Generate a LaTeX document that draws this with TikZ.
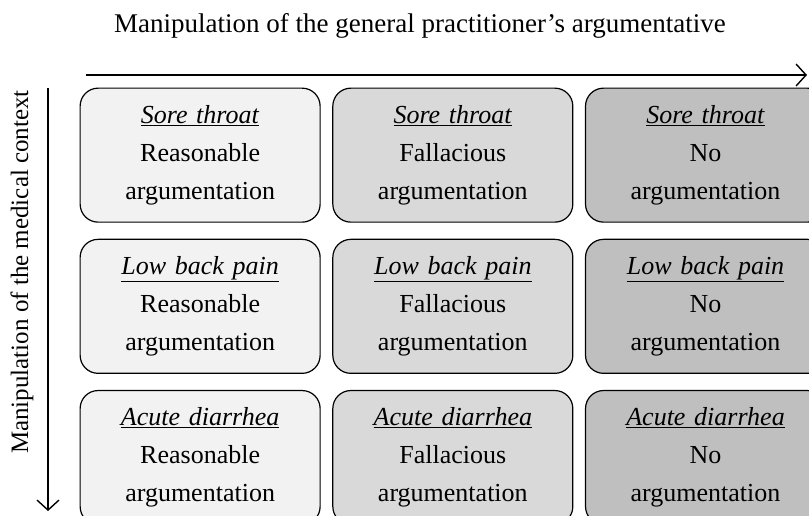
\documentclass[tikz,border=0pt]{standalone}
\usepackage{fontspec}
\setmainfont{Liberation Serif}
\usetikzlibrary{matrix,arrows.meta}
\newcommand{\cellbox}[2]{\underline{\textit{#1}}\\#2\\argumentation}
\tikzset{
grid/.style={
  matrix of nodes,
  row sep=16pt,
  column sep=11.5pt,
  nodes={draw,line width=1.2pt,rounded corners=18pt,
    minimum width=240pt,minimum height=134pt,
    text width=230pt,align=center,
    font=\fontsize{26}{38}\selectfont}
},
column 1/.style={nodes={fill=gray!10}},
column 2/.style={nodes={fill=gray!30}},
column 3/.style={nodes={fill=gray!50}},
axis/.style={line width=1.4pt,-{Straight Barb[length=10pt,width=22pt,line width=1.4pt]}},
axislabel/.style={font=\fontsize{27}{30}\selectfont}
}
\begin{document}
\begin{tikzpicture}[x=1pt,y=-1pt]
\useasboundingbox (0,0) rectangle (809,515);
\matrix (mat) [grid,anchor=north west] at (76,84) {
    {\cellbox{Sore throat}{Reasonable}} & {\cellbox{Sore throat}{Fallacious}} & {\cellbox{Sore throat}{No}} \\
    {\cellbox{Low back pain}{Reasonable}} & {\cellbox{Low back pain}{Fallacious}} & {\cellbox{Low back pain}{No}} \\
    {\cellbox{Acute diarrhea}{Reasonable}} & {\cellbox{Acute diarrhea}{Fallacious}} & {\cellbox{Acute diarrhea}{No}} \\
};
% the axes
\coordinate (hstart) at (86,75);
\coordinate (hend) at (807,75);
\coordinate (vstart) at (48,88);
\coordinate (vend) at (48,511);
\draw[axis] (hstart) -- (hend);
\draw[axis] (vstart) -- (vend);
\node[axislabel] (htitle) at (420,26) {Manipulation of the general practitioner’s argumentative};
\node[axislabel,font=\fontsize{25}{30}\selectfont,rotate=90] (vtitle) at (22,272) {Manipulation of the medical context};
\end{tikzpicture}
\end{document}
